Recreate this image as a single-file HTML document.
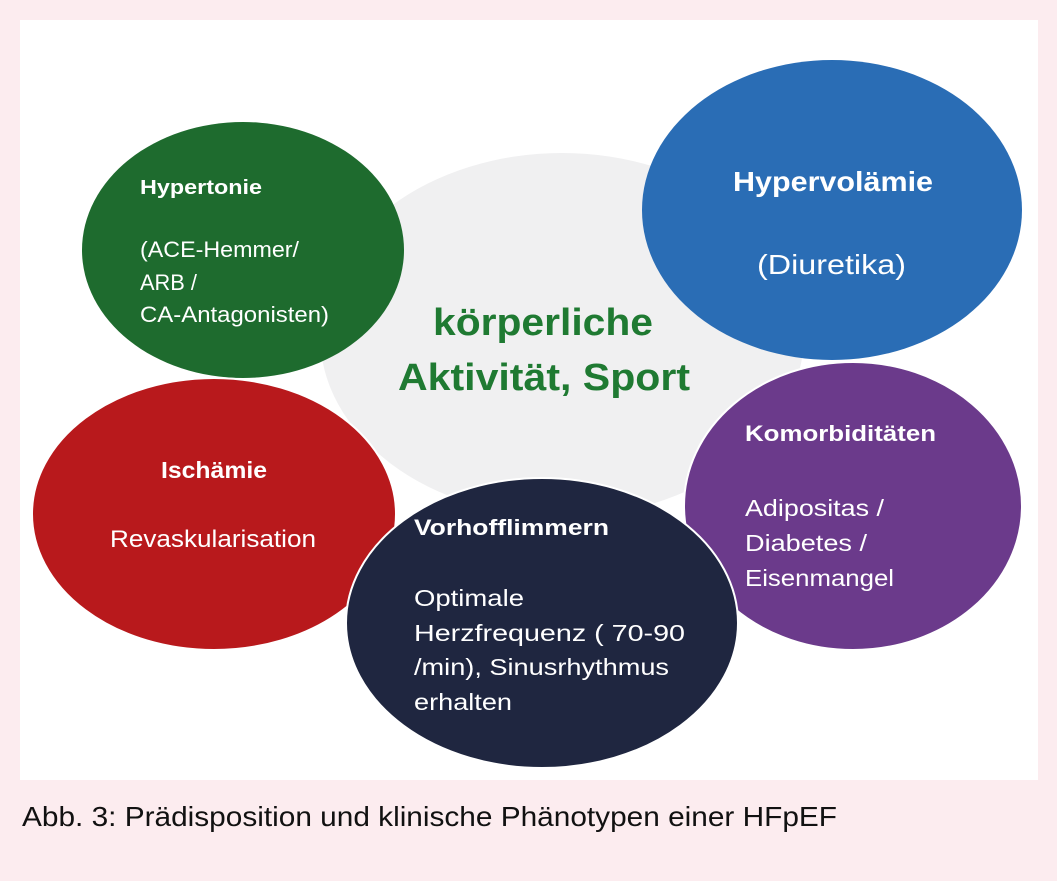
<!DOCTYPE html>
<html><head><meta charset="utf-8"><style>
body{margin:0;background:#fcecef;width:1057px;height:881px;overflow:hidden}
svg{display:block}
</style></head><body>
<svg width="1057" height="881" xmlns="http://www.w3.org/2000/svg" font-family="Liberation Sans, sans-serif">
<rect x="0" y="0" width="1057" height="881" fill="#fcecef"/>
<rect x="20" y="20" width="1018" height="760" fill="#ffffff"/>
<ellipse cx="562" cy="335" rx="242" ry="182" fill="#f0f0f1"/>
<ellipse cx="243" cy="250" rx="161" ry="128" fill="#1e6b2e"/>
<ellipse cx="832" cy="210" rx="190" ry="150" fill="#2a6db5"/>
<ellipse cx="214" cy="514" rx="182" ry="136" fill="#b8191c" stroke="#fff" stroke-width="2"/>
<ellipse cx="853" cy="506" rx="169" ry="144" fill="#6b3a8b" stroke="#fff" stroke-width="2"/>
<ellipse cx="542" cy="623" rx="196" ry="145" fill="#1f2640" stroke="#fff" stroke-width="2"/>
<g fill="#fff" lengthAdjust="spacingAndGlyphs">
<text x="140" y="194" font-size="20" font-weight="bold" textLength="122" lengthAdjust="spacingAndGlyphs">Hypertonie</text>
<text x="140" y="257" font-size="22" textLength="159" lengthAdjust="spacingAndGlyphs">(ACE-Hemmer/</text>
<text x="140" y="290" font-size="22" textLength="57" lengthAdjust="spacingAndGlyphs">ARB /</text>
<text x="140" y="322" font-size="22" textLength="189" lengthAdjust="spacingAndGlyphs">CA-Antagonisten)</text>
<text x="733" y="191" font-size="28" font-weight="bold" textLength="200" lengthAdjust="spacingAndGlyphs">Hypervolämie</text>
<text x="757" y="274" font-size="28" textLength="149" lengthAdjust="spacingAndGlyphs">(Diuretika)</text>
<text x="161" y="478" font-size="23" font-weight="bold" textLength="106" lengthAdjust="spacingAndGlyphs">Ischämie</text>
<text x="110" y="547" font-size="24" textLength="206" lengthAdjust="spacingAndGlyphs">Revaskularisation</text>
<text x="745" y="441" font-size="22" font-weight="bold" textLength="191" lengthAdjust="spacingAndGlyphs">Komorbiditäten</text>
<text x="745" y="516" font-size="23" textLength="139" lengthAdjust="spacingAndGlyphs">Adipositas /</text>
<text x="745" y="551" font-size="23" textLength="122" lengthAdjust="spacingAndGlyphs">Diabetes /</text>
<text x="745" y="586" font-size="23" textLength="149" lengthAdjust="spacingAndGlyphs">Eisenmangel</text>
<text x="414" y="535" font-size="22" font-weight="bold" textLength="195" lengthAdjust="spacingAndGlyphs">Vorhofflimmern</text>
<text x="414" y="606" font-size="23" textLength="110" lengthAdjust="spacingAndGlyphs">Optimale</text>
<text x="414" y="641" font-size="23" textLength="271" lengthAdjust="spacingAndGlyphs">Herzfrequenz  ( 70-90</text>
<text x="414" y="675" font-size="23" textLength="255" lengthAdjust="spacingAndGlyphs">/min), Sinusrhythmus</text>
<text x="414" y="710" font-size="23" textLength="98" lengthAdjust="spacingAndGlyphs">erhalten</text>
</g>
<g fill="#1f7a32" font-weight="bold" font-size="38">
<text x="433" y="335" textLength="220" lengthAdjust="spacingAndGlyphs">körperliche</text>
<text x="398" y="390" textLength="292" lengthAdjust="spacingAndGlyphs">Aktivität, Sport</text>
</g>
<text x="22" y="826" font-size="28" fill="#111" textLength="815" lengthAdjust="spacingAndGlyphs">Abb. 3: Prädisposition und klinische Phänotypen einer HFpEF</text>
</svg>
</body></html>
